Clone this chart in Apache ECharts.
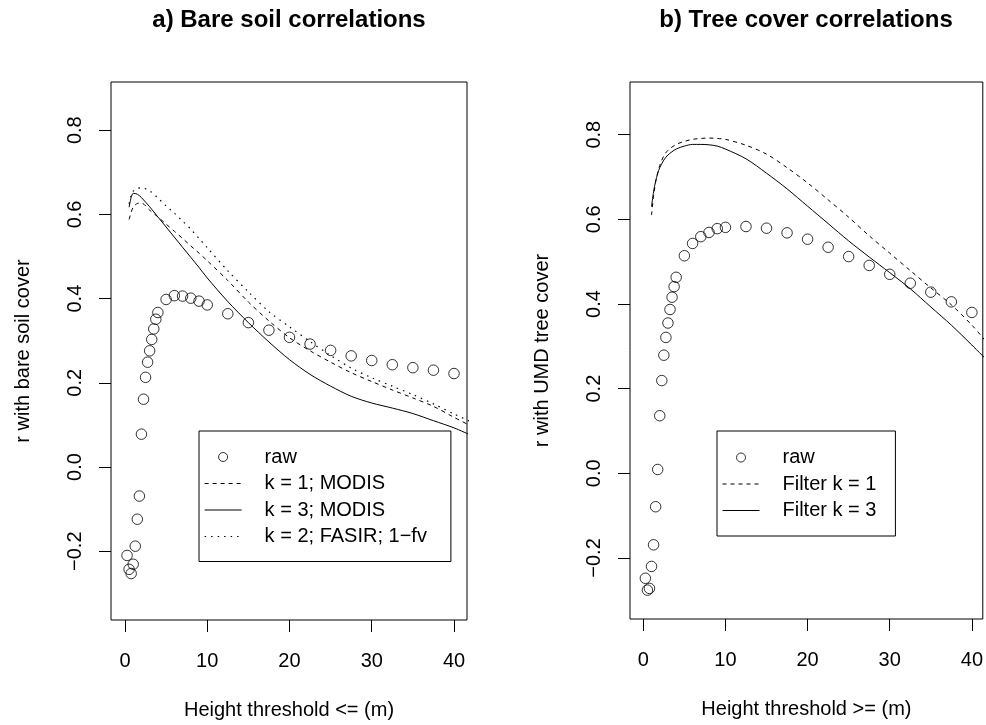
<!DOCTYPE html>
<html>
<head>
<meta charset="utf-8">
<script src="https://cdn.jsdelivr.net/npm/echarts@6/dist/echarts.min.js"></script>
<style>
html,body{margin:0;padding:0;background:#fff;}
#chart{width:986px;height:725px;}
</style>
</head>
<body>
<div id="chart"></div>
<script>
// ---- tick labels ----
const xTicks = [0, 10, 20, 30, 40];
const yTicks = [-0.2, 0, 0.2, 0.4, 0.6, 0.8];

// ---- raw points (both panels share the same height thresholds) ----
const heightsRaw = [0.25, 0.5, 0.75, 1, 1.25, 1.5, 1.75, 2, 2.25, 2.5, 2.75, 3, 3.25, 3.5, 3.75, 4,
                    5, 6, 7, 8, 9, 10, 12.5, 15, 17.5, 20, 22.5, 25, 27.5, 30, 32.5, 35, 37.5, 40];
const bareRaw = [-0.21, -0.243, -0.253, -0.231, -0.188, -0.124, -0.069, 0.078, 0.161, 0.213, 0.249, 0.276,
                 0.303, 0.328, 0.351, 0.367, 0.398, 0.407, 0.406, 0.401, 0.394, 0.385, 0.364, 0.343,
                 0.325, 0.308, 0.292, 0.277, 0.264, 0.253, 0.243, 0.236, 0.230, 0.222];
const treeRaw = [-0.248, -0.276, -0.272, -0.220, -0.169, -0.079, 0.009, 0.136, 0.219, 0.279, 0.321, 0.355,
                 0.387, 0.416, 0.441, 0.463, 0.514, 0.543, 0.559, 0.569, 0.578, 0.581, 0.583, 0.579,
                 0.568, 0.553, 0.534, 0.512, 0.491, 0.470, 0.449, 0.428, 0.405, 0.380];

// ---- panel a) filtered curves ----
const bareLineX = [0.5, 0.75, 1, 1.5, 2, 3, 4, 5, 6, 7, 8, 9, 10, 12.5, 15, 17.5, 20, 22.5, 25, 27.5,
                   30, 32.5, 35, 37.5, 40, 42];
const bareK1Modis = [0.588, 0.605, 0.617, 0.626, 0.627, 0.610, 0.594, 0.577, 0.560, 0.543, 0.525, 0.508,
                     0.490, 0.443, 0.392, 0.347, 0.307, 0.276, 0.249, 0.224, 0.203, 0.183, 0.164, 0.144,
                     0.118, 0.098];
const bareK3Modis = [0.617, 0.640, 0.650, 0.648, 0.640, 0.618, 0.594, 0.570, 0.546, 0.522, 0.498, 0.474,
                     0.449, 0.393, 0.343, 0.297, 0.255, 0.220, 0.192, 0.168, 0.152, 0.140, 0.127, 0.110,
                     0.093, 0.076];
const bareK2Fasir = [0.625, 0.645, 0.655, 0.662, 0.663, 0.656, 0.639, 0.620, 0.603, 0.584, 0.565, 0.543,
                     0.521, 0.466, 0.416, 0.369, 0.333, 0.298, 0.265, 0.235, 0.212, 0.192, 0.172, 0.150,
                     0.126, 0.108];

// ---- panel b) filtered curves ----
const treeLineX = [1, 1.25, 1.5, 1.75, 2, 2.5, 3, 4, 5, 6, 7, 8, 9, 10, 12.5, 15, 17.5, 20, 22.5, 25,
                   27.5, 30, 32.5, 35, 37.5, 40, 42];
const treeK1 = [0.610, 0.655, 0.688, 0.710, 0.727, 0.750, 0.763, 0.777, 0.784, 0.789, 0.791, 0.792, 0.791,
                0.789, 0.775, 0.754, 0.722, 0.686, 0.646, 0.605, 0.561, 0.520, 0.479, 0.438, 0.398, 0.350, 0.305];
const treeK3 = [0.630, 0.665, 0.690, 0.708, 0.722, 0.740, 0.752, 0.766, 0.773, 0.777, 0.777, 0.776, 0.773,
                0.766, 0.743, 0.709, 0.672, 0.631, 0.590, 0.549, 0.511, 0.474, 0.436, 0.393, 0.350, 0.303, 0.264];

const legendA = ['raw', 'k = 1; MODIS', 'k = 3; MODIS', 'k = 2; FASIR; 1\u2212fv'];
const legendB = ['raw', 'Filter k = 1', 'Filter k = 3'];

// ---- build ----
const FONT = "'Liberation Sans', Arial, Helvetica, sans-serif";
const DASH = [4, 4];
const DOT = [1.5, 5];
const zip = (xs, ys) => xs.map((x, i) => [x, ys[i]]);
const fmtY = v => Number(v).toFixed(1).replace('-', '\u2212');

function xAxisFor(gridIndex, min, max, name) {
  return {
    type: 'value', gridIndex, min, max, name,
    nameLocation: 'middle', nameGap: 80,
    nameTextStyle: {fontSize: 20, color: '#000', fontFamily: FONT},
    axisLine: {show: false, onZero: false},
    axisTick: {show: true, length: 12, customValues: xTicks, lineStyle: {color: '#000', width: 1}},
    axisLabel: {customValues: xTicks, margin: 31, fontSize: 20, color: '#000', fontFamily: FONT},
    splitLine: {show: false}
  };
}
function yAxisFor(gridIndex, min, max, name) {
  return {
    type: 'value', gridIndex, min, max, name,
    nameLocation: 'middle', nameGap: 78,
    nameTextStyle: {fontSize: 20, color: '#000', fontFamily: FONT},
    axisLine: {show: false, onZero: false},
    axisTick: {show: true, length: 12, customValues: yTicks, lineStyle: {color: '#000', width: 1}},
    axisLabel: {customValues: yTicks, rotate: 90, margin: 26, fontSize: 20, color: '#000',
                fontFamily: FONT, formatter: fmtY},
    splitLine: {show: false}
  };
}
function rawSeries(idx, ys) {
  return {
    name: 'raw', type: 'scatter', xAxisIndex: idx, yAxisIndex: idx,
    data: zip(heightsRaw, ys), symbol: 'circle', symbolSize: 10.5,
    itemStyle: {color: 'rgba(0,0,0,0)', borderColor: '#000', borderWidth: 1},
    silent: true, z: 3
  };
}
function curve(idx, name, xs, ys, type, width) {
  return {
    name, type: 'line', xAxisIndex: idx, yAxisIndex: idx,
    data: zip(xs, ys), symbol: 'none', showSymbol: false, smooth: 0.3,
    lineStyle: {color: '#000', width: width || 1, type},
    itemStyle: {color: '#000'},
    silent: true, clip: true, z: 2
  };
}
function rawItem(name) {
  return {
    name,
    itemStyle: {color: 'rgba(0,0,0,0)', borderColor: '#000', borderWidth: 1}
  };
}
function lineItem(name, type, width) {
  return {
    name,
    itemStyle: {color: 'rgba(0,0,0,0)', borderWidth: 0, opacity: 0},
    lineStyle: {color: '#000', width: width || 1, type}
  };
}
function legendFor(left, data, pad) {
  return {
    left, top: 431, orient: 'vertical', data, selectedMode: false,
    itemWidth: 37, itemHeight: 9, itemGap: 6.5,
    borderColor: '#000', borderWidth: 1, borderRadius: 0, padding: pad,
    backgroundColor: '#fff',
    textStyle: {fontSize: 20, color: '#000', fontFamily: FONT, lineHeight: 20, padding: [0, 0, 0, 18]}
  };
}

const option = {
  animation: false,
  backgroundColor: '#fff',
  title: [
    {text: 'a) Bare soil correlations', left: 289, top: 8, textAlign: 'center', padding: 0,
     textStyle: {fontSize: 24, fontWeight: 'bold', color: '#000', fontFamily: FONT}},
    {text: 'b) Tree cover correlations', left: 806, top: 8, textAlign: 'center', padding: 0,
     textStyle: {fontSize: 24, fontWeight: 'bold', color: '#000', fontFamily: FONT}}
  ],
  grid: [
    {left: 111, top: 82, width: 356, height: 538, show: true, borderColor: '#000', borderWidth: 1,
     backgroundColor: 'transparent', containLabel: false},
    {left: 630, top: 82, width: 353, height: 537, show: true, borderColor: '#000', borderWidth: 1,
     backgroundColor: 'transparent', containLabel: false}
  ],
  xAxis: [
    xAxisFor(0, -1.7, 41.58, 'Height threshold <= (m)'),
    xAxisFor(1, -1.62, 41.33, 'Height threshold >= (m)')
  ],
  yAxis: [
    yAxisFor(0, -0.3634, 0.9145, 'r with bare soil cover'),
    yAxisFor(1, -0.3442, 0.9244, 'r with UMD tree cover')
  ],
  legend: [
    legendFor(199, [
      rawItem(legendA[0]),
      lineItem(legendA[1], DASH),
      lineItem(legendA[2], 'solid'),
      lineItem(legendA[3], DOT, 1.2)
    ], [16, 24, 15, 5]),
    legendFor(717, [
      rawItem(legendB[0]),
      lineItem(legendB[1], DASH),
      lineItem(legendB[2], 'solid')
    ], [16.5, 19, 15.5, 5])
  ],
  series: [
    rawSeries(0, bareRaw),
    curve(0, legendA[1], bareLineX, bareK1Modis, DASH),
    curve(0, legendA[2], bareLineX, bareK3Modis, 'solid'),
    curve(0, legendA[3], bareLineX, bareK2Fasir, DOT, 1.2),
    rawSeries(1, treeRaw),
    curve(1, legendB[1], treeLineX, treeK1, DASH),
    curve(1, legendB[2], treeLineX, treeK3, 'solid')
  ]
};

const chart = echarts.init(document.getElementById('chart'), null, {renderer: 'canvas'});
chart.setOption(option);
</script>
</body>
</html>
